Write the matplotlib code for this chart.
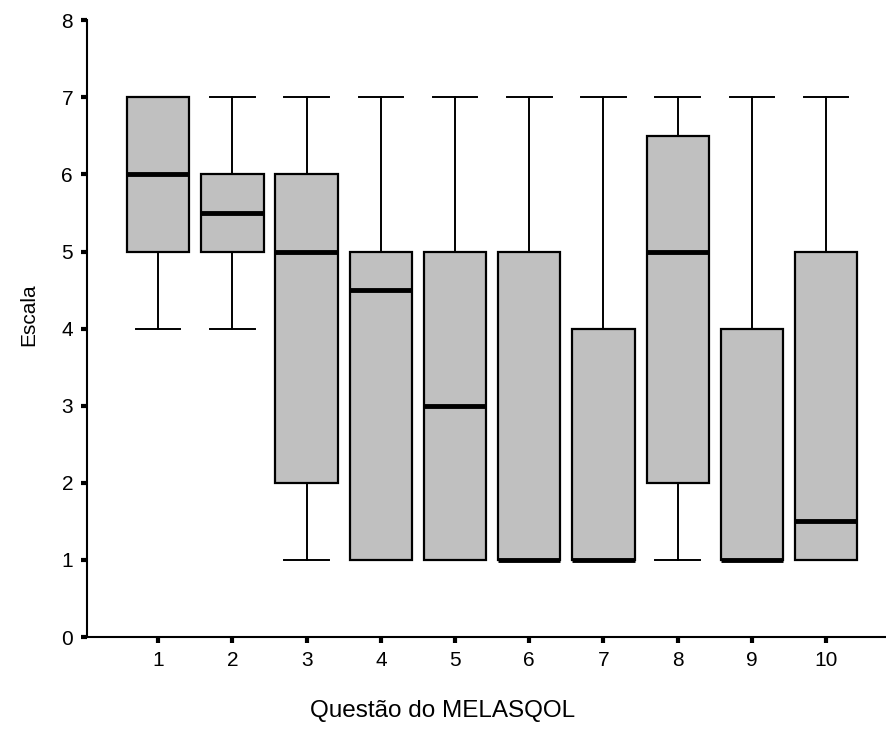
import matplotlib.pyplot as plt

plt.rcParams['font.family'] = ['Liberation Sans', 'DejaVu Sans']

questions = ['1', '2', '3', '4', '5', '6', '7', '8', '9', '10']
whis_lo = [4, 4, 1, 1, 1, 1, 1, 1, 1, 1]
q1 = [5, 5, 2, 1, 1, 1, 1, 2, 1, 1]
medians = [6, 5.5, 5, 4.5, 3, 1, 1, 5, 1, 1.5]
q3 = [7, 6, 6, 5, 5, 5, 4, 6.5, 4, 5]
whis_hi = [7, 7, 7, 7, 7, 7, 7, 7, 7, 7]

stats = []
for i, lab in enumerate(questions):
    stats.append({'label': lab, 'whislo': whis_lo[i], 'q1': q1[i], 'med': medians[i],
                  'q3': q3[i], 'whishi': whis_hi[i], 'fliers': []})

fig = plt.figure(figsize=(8.87, 7.44), dpi=100)
ax = fig.add_axes([0.098, 0.1438, 0.902, 0.829])

ax.bxp(stats, positions=range(1, 11), widths=0.84, patch_artist=True, showfliers=False,
       boxprops=dict(facecolor='#c0c0c0', edgecolor='black', linewidth=1.6),
       medianprops=dict(color='black', linewidth=3.5),
       whiskerprops=dict(color='black', linewidth=1.4),
       capprops=dict(color='black', linewidth=1.4), capwidths=0.6)

ax.set_xlim(0.04, 10.82)
ax.set_ylim(0, 8)
ax.set_yticks(range(0, 9))
ax.set_xticks(range(1, 11))
ax.set_xticklabels(questions)

for s in ['top', 'right']:
    ax.spines[s].set_visible(False)
for s in ['left', 'bottom']:
    ax.spines[s].set_linewidth(1.5)

ax.tick_params(axis='both', direction='out', length=4, width=3, labelsize=15, pad=6)
ax.set_ylabel('Escala', fontsize=15)
ax.set_xlabel('Questão do MELASQOL', fontsize=17.5)
ax.yaxis.set_label_coords(-0.061, 0.523)
ax.xaxis.set_label_coords(0.445, -0.102)

plt.savefig('out.png', dpi=100)
